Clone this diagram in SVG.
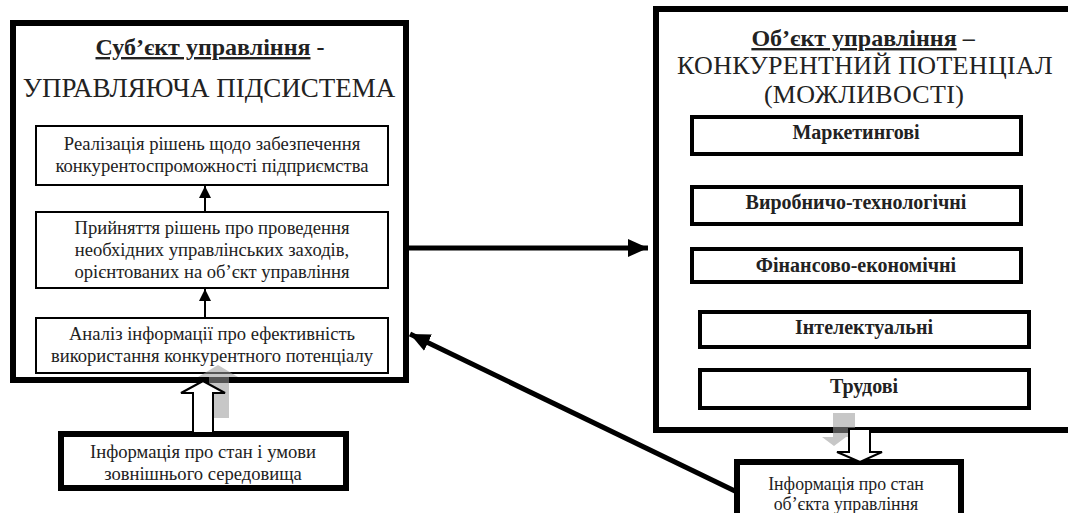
<svg xmlns="http://www.w3.org/2000/svg" width="1068" height="513" viewBox="0 0 1068 513">
<style>
text{font-family:"Liberation Serif","Times New Roman",serif;fill:#222;text-anchor:middle}
.t{font-size:18.6px}
.s{font-size:17.8px}
.h{font-size:24px;font-weight:bold}
.u{text-decoration:underline}
.big{font-size:27px}
.big2{font-size:26px;letter-spacing:0.3px}
.b{font-size:20px;font-weight:bold}
.outer{fill:#fff;stroke:#000;stroke-width:6}
.inner{fill:#fff;stroke:#000;stroke-width:2}
.thick{fill:#fff;stroke:#000;stroke-width:4}
.conn{stroke:#000;fill:none}
.shadow{fill:#999;fill-opacity:0.55}
.blk{fill:#fff;stroke:#000;stroke-width:2}
</style>
<defs>
<marker id="ah" markerWidth="12" markerHeight="12" refX="12" refY="6" orient="auto" markerUnits="userSpaceOnUse" viewBox="0 0 12 12"><path d="M0,0 L12,6 L0,12 Z" fill="#000"/></marker>
<marker id="ahb" markerWidth="20" markerHeight="20" refX="20" refY="10" orient="auto" markerUnits="userSpaceOnUse" viewBox="0 0 20 20"><path d="M0,1 L20,10 L0,19 Z" fill="#000"/></marker>
</defs>

<g id="subject">
<rect class="outer" x="13" y="23" width="393" height="357"/>
<text class="h" x="210" y="55"><tspan class="u">Суб’єкт управління</tspan> -</text>
<text class="big" x="209" y="97">УПРАВЛЯЮЧА ПІДСИСТЕМА</text>
</g>

<g id="realization">
<rect class="inner" x="36" y="126" width="352" height="59"/>
<text class="t" x="212" y="150">Реалізація рішень щодо забезпечення</text>
<text class="t" x="212" y="172">конкурентоспроможності підприємства</text>
</g>

<g id="decision">
<rect class="inner" x="36" y="212" width="352" height="76"/>
<text class="t" x="212" y="234">Прийняття рішень про проведення</text>
<text class="t" x="212" y="256">необхідних управлінських  заходів,</text>
<text class="t" x="212" y="278">орієнтованих на об’єкт управління</text>
</g>

<g id="analysis">
<rect class="inner" x="36" y="318" width="352" height="55"/>
<text class="t" x="212" y="340">Аналіз інформації про ефективність</text>
<text class="t" x="212" y="362">використання конкурентного потенціалу</text>
</g>

<g id="object">
<rect class="outer" x="656" y="9" width="420" height="421"/>
<text class="h" x="863" y="46"><tspan class="u">Об’єкт управління</tspan> –</text>
<text class="big2" x="865" y="74">КОНКУРЕНТНИЙ ПОТЕНЦІАЛ</text>
<text class="big2" x="864" y="103">(МОЖЛИВОСТІ)</text>
</g>

<g id="marketing">
<rect class="thick" x="692" y="117" width="329" height="37"/>
<text class="b" x="856" y="139">Маркетингові</text>
</g>
<g id="production">
<rect class="thick" x="692" y="187" width="329" height="37"/>
<text class="b" x="856" y="209">Виробничо-технологічні</text>
</g>
<g id="finance">
<rect class="thick" x="692" y="249" width="329" height="33"/>
<text class="b" x="856" y="272">Фінансово-економічні</text>
</g>
<g id="intellectual">
<rect class="thick" x="700" y="312" width="329" height="35"/>
<text class="b" x="864" y="334">Інтелектуальні</text>
</g>
<g id="labour">
<rect class="thick" x="700" y="370" width="329" height="38"/>
<text class="b" x="864" y="393">Трудові</text>
</g>

<g id="external">
<rect class="outer" x="61" y="434" width="285" height="54"/>
<text class="t" x="203" y="458">Інформація про стан і умови</text>
<text class="t" x="203" y="480">зовнішнього середовища</text>
</g>

<g id="objinfo">
<rect class="outer" x="737" y="462" width="224" height="60"/>
<text class="s" x="846" y="490">Інформація про стан</text>
<text class="s" x="846" y="510">об’єкта управління</text>
</g>

<g id="connectors">
<line class="conn" x1="205" y1="212" x2="205" y2="186" stroke-width="2" marker-end="url(#ah)"/>
<line class="conn" x1="205" y1="318" x2="205" y2="289" stroke-width="2" marker-end="url(#ah)"/>
<line class="conn" x1="409" y1="248" x2="648" y2="248" stroke-width="5" marker-end="url(#ahb)"/>
<line class="conn" x1="737" y1="492" x2="410" y2="334" stroke-width="5" marker-end="url(#ahb)"/>
<path class="shadow" d="M209,418 L209,377 L198,377 L218,365 L238,377 L229,377 L229,418 Z"/>
<path class="blk" d="M193,433 L193,393 L181,393 L203,381 L225,393 L213,393 L213,433 Z"/>
<path class="shadow" d="M833,413 L855,413 L855,437 L846,437 L834,446 L822,437 L833,437 Z"/>
<path class="blk" d="M849,429 L870,429 L870,452 L882,452 L860,462 L837,452 L849,452 Z"/>
</g>
</svg>
